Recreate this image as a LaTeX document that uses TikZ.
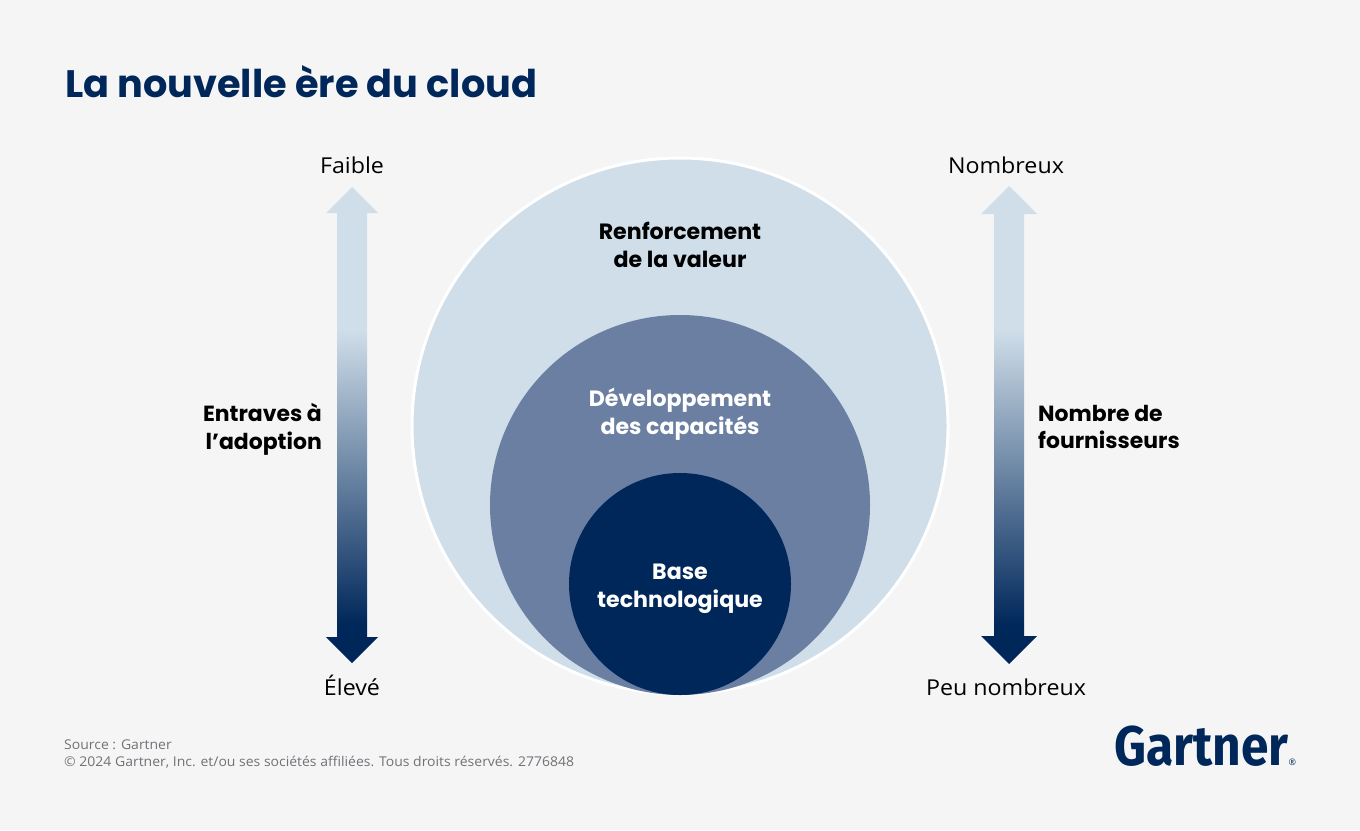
\documentclass[tikz,border=0pt]{standalone}
\usepackage{fontspec}
\setmainfont{Open Sans}
\newfontfamily\headf{Poppins}
\newfontfamily\logof[FakeStretch=0.89]{Fira Sans}
\newfontfamily\endf[FakeStretch=1.06]{Open Sans}
\newfontfamily\footf[FakeStretch=1.04]{Open Sans}
\usepackage{xcolor}
\definecolor{bgc}{HTML}{F5F5F5}
\definecolor{navy}{HTML}{00275A}
\definecolor{pale}{HTML}{D0DEE9}
\definecolor{midb}{HTML}{6B7FA3}
\definecolor{greyt}{HTML}{6F7276}
\pgfdeclareverticalshading{arrowgrad}{100bp}{color(0bp)=(navy); color(29bp)=(navy); color(60bp)=(pale); color(100bp)=(pale)}
\tikzset{
  x=1bp,y=-1bp,
  disc/.style={circle,inner sep=0pt,outer sep=0pt},
  title/.style={inner sep=0pt,anchor=base west,text=navy,font=\headf\bfseries\fontsize{38.4}{38}\selectfont},
  inlabel/.style={inner sep=0pt,align=center,font=\headf\bfseries\fontsize{22.2}{28}\selectfont},
  sidelabel/.style={inner sep=0pt,text=black,font=\headf\bfseries\fontsize{22}{28}\selectfont},
  endlabel/.style={inner sep=0pt,anchor=base,text=black,font=\endf\fontsize{22}{26}\selectfont},
  footer/.style={inner sep=0pt,anchor=base west,text=greyt,font=\footf\fontsize{13.5}{16}\selectfont},
  logotext/.style={inner sep=0pt,anchor=base west,text=navy,font=\logof\bfseries\fontsize{56}{56}\selectfont},
  gradarrow/.style={shading=arrowgrad},
}
\begin{document}
\begin{tikzpicture}
\useasboundingbox (0,0) rectangle (1360,830);
\fill[bgc] (0,0) rectangle (1360,830);
\node[title] (t) at (65,97) {La nouvelle ère du cloud};
% arrows
\shade[gradarrow] (352,187) -- (378,213) -- (367,213) -- (367,637) -- (378,637) -- (352,663) -- (326,637) -- (337,637) -- (337,213) -- (326,213) -- cycle;
\shade[gradarrow] (1009,186) -- (1037,214) -- (1024,214) -- (1024,636) -- (1037,636) -- (1009,664) -- (981,636) -- (994,636) -- (994,214) -- (981,214) -- cycle;
% discs
\node[disc,fill=pale,draw=white,line width=3bp,minimum size=536bp] (o) at (680,426) {};
\node[disc,fill=midb,minimum size=380bp] (m) at (680,505) {};
\node[disc,fill=navy,minimum size=222bp] (i) at (680,584) {};
\node[inlabel,text=black] (ol) at (680,244.5) {Renforcement\\de la valeur};
\node[inlabel,text=white] (ml) at (680,414.5) {Développement\\des capacités};
\node[inlabel,text=white] (il) at (680,588.5) {Base\\technologique};
\node[sidelabel,align=right,anchor=east] (sl) at (322,429) {Entraves à\\l’adoption};
\node[sidelabel,align=left,anchor=west] (sr) at (1038,427) {Nombre de\\fournisseurs};
\node[endlabel] (e1) at (352,173) {Faible};
\node[endlabel] (e2) at (352,695) {Élevé};
\node[endlabel] (e3) at (1006,173) {Nombreux};
\node[endlabel] (e4) at (1006,695) {Peu nombreux};
\node[footer] (f1) at (64,749) {Source : Gartner};
\node[footer] (f2) at (64,766) {© 2024 Gartner, Inc. et/ou ses sociétés affiliées. Tous droits réservés. 2776848};
\node[logotext] (g) at (1114,765) {Gartner{\normalfont\fontsize{9}{9}\selectfont ®}};
\end{tikzpicture}
\end{document}
